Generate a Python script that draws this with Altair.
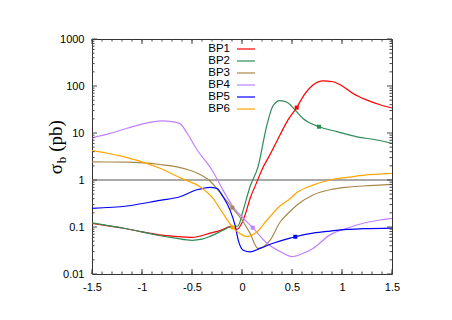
import altair as alt
import pandas as pd

series = ["BP1", "BP2", "BP3", "BP4", "BP5", "BP6"]
colors = ["#ff0000", "#2e8b57", "#a8884a", "#c080ff", "#0000ff", "#ffa500"]

bp1_x = [-1.5, -1.17, -1.0, -0.83, -0.67, -0.5, -0.32, -0.2, -0.12, -0.05, 0.03, 0.08, 0.147, 0.197, 0.28, 0.38, 0.46, 0.547, 0.63, 0.71, 0.81, 0.91, 1.01, 1.11, 1.25, 1.38, 1.5]
bp1_y = [0.120, 0.093, 0.079, 0.068, 0.063, 0.060, 0.074, 0.087, 0.102, 0.089, 0.178, 0.40, 0.89, 1.62, 3.47, 9.1, 19.0, 34.7, 69, 105, 129, 123, 98, 69, 50, 40, 34]

bp2_x = [-1.5, -1.17, -1.0, -0.83, -0.67, -0.5, -0.4, -0.32, -0.2, -0.12, -0.04, 0.01, 0.08, 0.16, 0.25, 0.31, 0.38, 0.45, 0.53, 0.61, 0.77, 0.95, 1.15, 1.35, 1.5]
bp2_y = [0.123, 0.093, 0.079, 0.066, 0.058, 0.052, 0.055, 0.063, 0.083, 0.100, 0.105, 0.22, 0.72, 1.9, 15.1, 38, 49, 45, 31, 20.4, 13.6, 10.7, 8.3, 7.1, 6.0]

bp3_x = [-1.5, -1.15, -0.82, -0.65, -0.5, -0.4, -0.32, -0.19, -0.097, 0.0, 0.08, 0.16, 0.28, 0.38, 0.48, 0.55, 0.71, 0.88, 1.05, 1.21, 1.5]
bp3_y = [2.42, 2.40, 2.14, 1.9, 1.55, 1.25, 0.95, 0.45, 0.258, 0.141, 0.074, 0.035, 0.052, 0.126, 0.214, 0.295, 0.48, 0.62, 0.70, 0.745, 0.81]

bp4_x = [-1.5, -1.32, -1.15, -1.0, -0.8, -0.7, -0.62, -0.55, -0.45, -0.3, -0.19, -0.09, 0.0, 0.107, 0.25, 0.38, 0.5, 0.6, 0.71, 0.88, 1.05, 1.21, 1.38, 1.5]
bp4_y = [7.9, 9.8, 12.6, 15.5, 18.2, 17.4, 15.8, 10.0, 4.4, 1.63, 0.61, 0.27, 0.163, 0.097, 0.045, 0.030, 0.0234, 0.027, 0.035, 0.068, 0.094, 0.12, 0.141, 0.153]

bp5_x = [-1.5, -1.15, -0.82, -0.62, -0.45, -0.32, -0.25, -0.19, -0.12, -0.07, -0.037, 0.013, 0.08, 0.18, 0.31, 0.48, 0.533, 0.71, 0.88, 1.05, 1.21, 1.5]
bp5_y = [0.25, 0.28, 0.37, 0.44, 0.62, 0.70, 0.66, 0.44, 0.23, 0.11, 0.052, 0.032, 0.0295, 0.035, 0.045, 0.058, 0.062, 0.074, 0.082, 0.089, 0.092, 0.095]

bp6_x = [-1.5, -1.15, -0.82, -0.6, -0.42, -0.3, -0.19, -0.093, 0.0, 0.05, 0.15, 0.25, 0.38, 0.48, 0.55, 0.71, 0.88, 1.05, 1.21, 1.5]
bp6_y = [4.2, 3.0, 1.78, 1.07, 0.72, 0.43, 0.195, 0.098, 0.068, 0.063, 0.079, 0.141, 0.28, 0.40, 0.54, 0.78, 1.0, 1.14, 1.26, 1.38]

mark_x = [0.547, 0.77, -0.097, 0.107, 0.533, -0.093]
mark_y = [34.7, 13.6, 0.258, 0.097, 0.062, 0.098]

x_major = [-1.5, -1.0, -0.5, 0.0, 0.5, 1.0, 1.5]
x_minor = [round(-1.5 + 0.1 * i, 1) for i in range(31)]
y_major = [0.01, 0.1, 1, 10, 100, 1000]
y_minor = [round(m * d, 4) for d in [0.01, 0.1, 1, 10, 100] for m in range(2, 10)]

W, H = 300, 235
MAJ, MIN = 5, 2.5
FONT = "Liberation Sans"

xs_list = [bp1_x, bp2_x, bp3_x, bp4_x, bp5_x, bp6_x]
ys_list = [bp1_y, bp2_y, bp3_y, bp4_y, bp5_y, bp6_y]
rows = []
for name, xv, yv in zip(series, xs_list, ys_list):
    for a, b in zip(xv, yv):
        rows.append({"s": name, "x": a, "y": b})
df = pd.DataFrame(rows)
dm = pd.DataFrame({"s": series, "x": mark_x, "y": mark_y})

xscale = alt.Scale(domain=[-1.5, 1.5], nice=False, zero=False)
yscale = alt.Scale(type="log", domain=[0.01, 1000], nice=False)
xaxis = alt.Axis(values=x_major, labelExpr="'' + datum.value", ticks=False, domain=False,
                 grid=False, labelFont=FONT, labelFontSize=11, labelColor="black",
                 labelPadding=7, labelFlush=False, labelOverlap=False, title=None)
yaxis = alt.Axis(values=y_major, labelExpr="'' + datum.value", ticks=False, domain=False,
                 grid=False, labelFont=FONT, labelFontSize=11, labelColor="black",
                 labelPadding=8, labelFlush=False, labelOverlap=False, title=None)


def X(f):
    return alt.X(f, type="quantitative", scale=xscale, axis=xaxis)


def Y(f):
    return alt.Y(f, type="quantitative", scale=yscale, axis=yaxis)


cscale = alt.Scale(domain=series, range=colors)

layers = []
layers.append(alt.Chart(pd.DataFrame({"y": [1]})).mark_rule(color="#8c8c8c", strokeWidth=1.5).encode(y=Y("y")))
layers.append(alt.Chart(df).mark_line(strokeWidth=1.2, interpolate="monotone", clip=True).encode(
    x=X("x"), y=Y("y"), color=alt.Color("s:N", scale=cscale, legend=None)))
layers.append(alt.Chart(dm).mark_square(size=16, filled=True, opacity=1).encode(
    x=X("x"), y=Y("y"), color=alt.Color("s:N", scale=cscale, legend=None)))

tick_color = "#444444"
dxM = pd.DataFrame({"v": x_major})
dxm = pd.DataFrame({"v": x_minor})
dyM = pd.DataFrame({"v": y_major})
dym = pd.DataFrame({"v": y_minor})
for d, L in [(dxM, MAJ), (dxm, MIN)]:
    layers.append(alt.Chart(d).mark_rule(color=tick_color, strokeWidth=1).encode(
        x=X("v"), y=alt.value(H), y2=alt.value(H - L)))
    layers.append(alt.Chart(d).mark_rule(color=tick_color, strokeWidth=1).encode(
        x=X("v"), y=alt.value(0), y2=alt.value(L)))
for d, L in [(dyM, MAJ), (dym, MIN)]:
    layers.append(alt.Chart(d).mark_rule(color=tick_color, strokeWidth=1).encode(
        y=Y("v"), x=alt.value(0), x2=alt.value(L)))
    layers.append(alt.Chart(d).mark_rule(color=tick_color, strokeWidth=1).encode(
        y=Y("v"), x=alt.value(W - L), x2=alt.value(W)))

one = pd.DataFrame({"t": [""]})
for i, name in enumerate(series):
    yy = 10 + 12 * i
    layers.append(alt.Chart(pd.DataFrame({"t": [name]})).mark_text(
        align="right", baseline="middle", font=FONT, fontSize=11.5, color="black").encode(
        text="t:N", x=alt.value(138), y=alt.value(yy)))
    layers.append(alt.Chart(one).mark_rule(color=colors[i], strokeWidth=1.2).encode(
        x=alt.value(145), x2=alt.value(163), y=alt.value(yy)))

title_parts = [("σ", 19, -30, 130), ("b", 13, -26, 121), ("(pb)", 19, -30, 97)]
for txt, fs, tx, ty in title_parts:
    layers.append(alt.Chart(pd.DataFrame({"t": [txt]})).mark_text(
        align="center", baseline="alphabetic", angle=270, font="Liberation Serif",
        fontSize=fs, color="black").encode(text="t:N", x=alt.value(tx), y=alt.value(ty)))

chart = alt.layer(*layers).properties(
    width=W, height=H,
    autosize=alt.AutoSizeParams(type="none"),
    padding={"left": 84, "top": 31, "right": 52, "bottom": 38},
).configure_view(stroke="#333333", strokeWidth=1)

chart.save("out.html", embed_options={"renderer": "svg", "actions": False})
